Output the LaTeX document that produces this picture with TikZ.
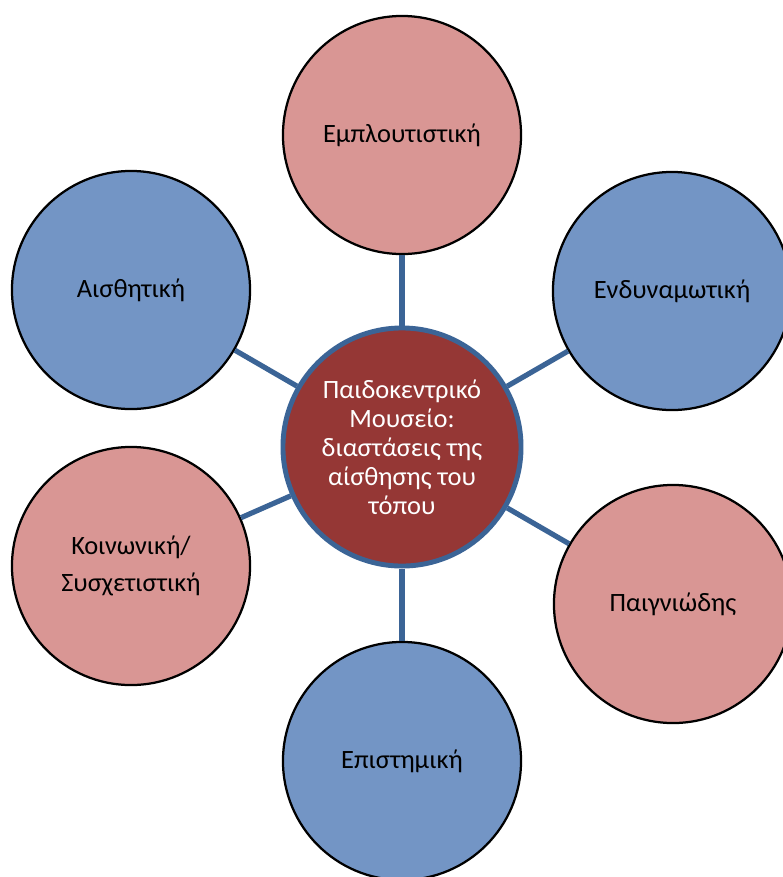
\documentclass[tikz,border=0pt]{standalone}
\usepackage{fontspec}
\setmainfont{Carlito}
\usepackage{tikz}
\usetikzlibrary{positioning,calc}

\definecolor{hubred}{HTML}{953735}
\definecolor{hubline}{HTML}{3B6496}
\definecolor{petalpink}{HTML}{D99694}
\definecolor{petalblue}{HTML}{7395C5}

\tikzset{
  petal/.style={circle, draw=black, line width=1.6pt, minimum size=5.95cm,
    inner sep=0pt, align=center, font=\fontsize{18.8}{26}\selectfont},
  pinkpetal/.style={petal, fill=petalpink},
  bluepetal/.style={petal, fill=petalblue},
  hub/.style={circle, draw=hubline, line width=3.5pt, fill=hubred,
    minimum size=5.95cm, inner sep=0pt, align=center, text=white,
    font=\fontsize{18.8}{20.7}\selectfont},
  spoke/.style={draw=hubline, line width=3.7pt}
}

\begin{document}
\begin{tikzpicture}[x=0.025cm, y=-0.025cm, line cap=butt, line join=round]

% frame of the picture (pixel units, y downwards)
\useasboundingbox (0,0) rectangle (783,877);

% ------------------ centre ------------------
\node[hub] (museum) at (402,447)
  {Παιδοκεντρικό\\Μουσείο:\\διαστάσεις της\\αίσθησης του\\τόπου};

% ------------------ dimensions ------------------
\node[pinkpetal] (enrich)  at (402,135) {Εμπλουτιστική};
\node[bluepetal] (empower) at (672,291) {Ενδυναμωτική};
\node[pinkpetal] (play)    at (673,604) {Παιγνιώδης};
\node[bluepetal] (science) at (402,761) {Επιστημική};
\node[pinkpetal] (social)  at (131,566) {Κοινωνική/\\Συσχετιστική};
\node[bluepetal] (senses)  at (131,290) {Αισθητική};

% ------------------ spokes ------------------
\foreach \dim in {enrich,empower,play,science,social,senses}
  \draw[spoke] (museum) -- (\dim);

\end{tikzpicture}
\end{document}
